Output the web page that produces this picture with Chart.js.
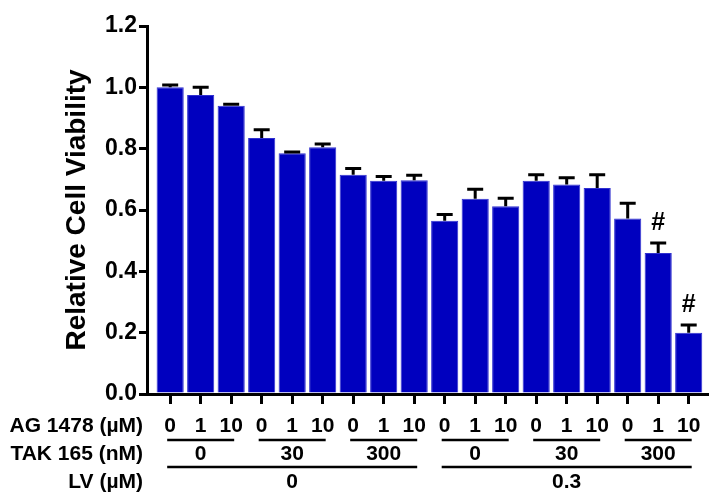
<!DOCTYPE html>
<html>
<head>
<meta charset="utf-8">
<script src="https://cdn.jsdelivr.net/npm/chart.js@4.4.1/dist/chart.umd.min.js"></script>
<style>
    html, body { margin: 0; padding: 0; background: #fff; }
    #box { width: 709px; height: 492px; }
</style>
</head>
<body>
<div id="box"><canvas id="chart-viabilidade"></canvas></div>
<script>
// valores
const agLabels = ['0', '1', '10', '0', '1', '10', '0', '1', '10', '0', '1', '10', '0', '1', '10', '0', '1', '10'];
const takLabels = ['0', '30', '300', '0', '30', '300'];
const lvLabels = ['0', '0.3'];
const viabilidade = [1.00, 0.975, 0.94, 0.835, 0.785, 0.805, 0.715, 0.695, 0.697, 0.565, 0.637, 0.612, 0.695, 0.683, 0.672, 0.572, 0.46, 0.20];
const erro = [0.008, 0.025, 0.005, 0.027, 0.004, 0.01, 0.02, 0.014, 0.016, 0.02, 0.031, 0.026, 0.02, 0.022, 0.043, 0.05, 0.032, 0.025];
const marcas = ['', '', '', '', '', '', '', '', '', '', '', '', '', '', '', '', '#', '#'];
const yTicks = [0, 0.2, 0.4, 0.6, 0.8, 1.0, 1.2];

const fonte = 'Arial, "Liberation Sans", sans-serif';

// pontos da barra: x = posição da categoria
let pontos = [];
for (i = 0; i < viabilidade.length; i++) {
    pontos.push({ x: i, y: viabilidade[i] });
}

// barras de erro (só para cima) e marcas #
const pluginErro = {
    id: 'barrasErro',
    afterDatasetsDraw(chart) {
        const ctx = chart.ctx;
        const y = chart.scales.y;
        const meta = chart.getDatasetMeta(0);
        ctx.save();
        ctx.strokeStyle = '#000';
        ctx.fillStyle = '#000';
        ctx.lineWidth = 3;
        meta.data.forEach(function (bar, i) {
            const topo = y.getPixelForValue(viabilidade[i] + erro[i]);
            ctx.beginPath();
            ctx.moveTo(bar.x, bar.y);
            ctx.lineTo(bar.x, topo);
            ctx.moveTo(bar.x - 8, topo);
            ctx.lineTo(bar.x + 8, topo);
            ctx.stroke();
            if (marcas[i]) {
                ctx.font = 'bold 25px ' + fonte;
                ctx.textAlign = 'center';
                ctx.textBaseline = 'middle';
                ctx.fillText(marcas[i], bar.x, topo - 20);
            }
        });
        ctx.restore();
    }
};

// rótulos das condições abaixo do eixo x
const pluginCondicoes = {
    id: 'condicoes',
    afterDraw(chart) {
        const ctx = chart.ctx;
        const x = chart.scales.x;
        const px = function (v) { return x.getPixelForValue(v); };
        ctx.save();
        ctx.fillStyle = '#000';
        ctx.strokeStyle = '#000';
        ctx.lineWidth = 2.5;
        ctx.font = 'bold 21px ' + fonte;
        ctx.textBaseline = 'middle';

        ctx.textAlign = 'right';
        ctx.fillText('AG 1478 (µM)', 143, 426);
        ctx.fillText('TAK 165 (nM)', 143, 454);
        ctx.fillText('LV (µM)', 143, 482);

        ctx.textAlign = 'center';
        for (i = 0; i < agLabels.length; i++) {
            ctx.fillText(agLabels[i], px(i), 426);
        }
        for (g = 0; g < takLabels.length; g++) {
            ctx.beginPath();
            ctx.moveTo(px(g * 3) - 3, 440);
            ctx.lineTo(px(g * 3 + 2) + 3, 440);
            ctx.stroke();
            ctx.fillText(takLabels[g], px(g * 3 + 1), 454);
        }
        for (g = 0; g < lvLabels.length; g++) {
            ctx.beginPath();
            ctx.moveTo(px(g * 9) - 3, 467);
            ctx.lineTo(px(g * 9 + 8) + 3, 467);
            ctx.stroke();
            ctx.fillText(lvLabels[g], px(g * 9 + 4), 482);
        }
        ctx.restore();
    }
};

const dados = {
    datasets: [{
        label: 'Relative Cell Viability',
        data: pontos,
        backgroundColor: '#0000bf',
        borderColor: '#3030d0',
        borderWidth: 1,
        barPercentage: 0.89,
        categoryPercentage: 1.0,
    }]
};

const config = {
    type: 'bar',
    data: dados,
    options: {
        responsive: false,
        animation: false,
        events: [],
        layout: { padding: { left: 60, top: 26, right: 2, bottom: 0 } },
        plugins: {
            legend: { display: false },
            tooltip: { enabled: false },
        },
        scales: {
            x: {
                type: 'linear',
                offset: false,
                min: -0.76,
                max: 17.6,
                afterFit: function (scale) { scale.height = 98; },
                border: { display: true, color: '#000', width: 3 },
                grid: { offset: false, drawOnChartArea: false, drawTicks: true, tickLength: 10, color: '#000', lineWidth: 3 },
                ticks: {
                    stepSize: 1,
                    includeBounds: false,
                    callback: function () { return ''; },
                },
            },
            y: {
                min: 0,
                max: 1.2,
                afterFit: function (scale) { scale.width = 147 - 60; },
                afterBuildTicks: function (scale) {
                    scale.ticks = yTicks.map(function (v) { return { value: v }; });
                },
                border: { display: true, color: '#000', width: 3 },
                grid: { drawOnChartArea: false, drawTicks: true, tickLength: 8, color: '#000', lineWidth: 3 },
                ticks: {
                    color: '#000',
                    padding: 2,
                    font: { family: fonte, size: 23, weight: 'bold' },
                    callback: function (v) { return v.toFixed(1); },
                },
                title: {
                    display: true,
                    text: 'Relative Cell Viability',
                    color: '#000',
                    padding: { top: 0, bottom: 0 },
                    font: { family: fonte, size: 28, weight: 'bold' },
                },
            },
        },
    },
    plugins: [pluginErro, pluginCondicoes],
};

const canvas = document.getElementById('chart-viabilidade');
canvas.width = 709;
canvas.height = 492;
let myChart = new Chart(canvas, config);
</script>
</body>
</html>
